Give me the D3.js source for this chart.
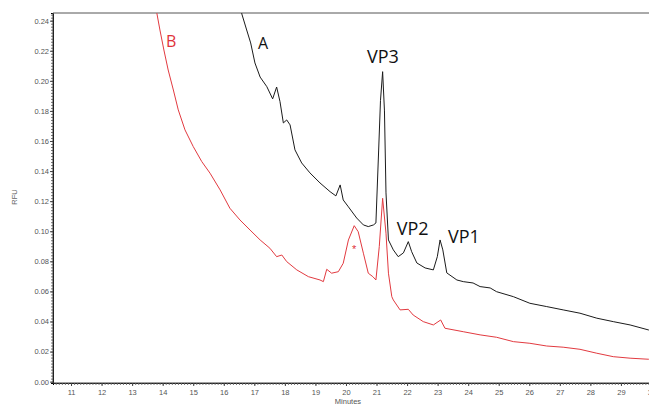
<!DOCTYPE html>
<meta charset="utf-8">
<script src="https://d3js.org/d3.v7.min.js"></script>
<style>
  body { margin: 0; background: #fff; }
  text { font-family: Arial, "Liberation Sans", sans-serif; }
</style>
<body>
<div id="chart"></div>
<script>
// trace A (black) : minutes / RFU
const minutesA = [16.55, 16.59, 16.75, 16.88, 17.02, 17.19, 17.41, 17.60, 17.73, 17.84, 17.95, 18.06, 18.17,
  18.33, 18.55, 18.82, 19.15, 19.48, 19.67, 19.81, 19.91, 20.08, 20.35, 20.57, 20.73, 20.90, 20.98,
  21.07, 21.13, 21.20, 21.26, 21.31, 21.39, 21.55, 21.71, 21.88, 22.04, 22.15, 22.32, 22.59, 22.86,
  22.99, 23.08, 23.17, 23.30, 23.63, 23.84, 24.16, 24.39, 24.72, 24.93, 25.48, 26.02, 26.57, 27.11,
  27.66, 28.21, 28.75, 29.30, 29.90, 30.20];
const rfuA = [0.250, 0.2445, 0.2338, 0.2252, 0.2119, 0.2025, 0.1961, 0.1880, 0.1959, 0.1862, 0.1720, 0.1740, 0.1707,
  0.1541, 0.1454, 0.1388, 0.1321, 0.1263, 0.1235, 0.1308, 0.1208, 0.1162, 0.1088, 0.1042, 0.1031, 0.1042, 0.1055,
  0.154, 0.187, 0.2061, 0.180, 0.1255, 0.0942, 0.0876, 0.0831, 0.0856, 0.0931, 0.0864, 0.0789, 0.0756, 0.0743,
  0.0831, 0.0942, 0.0876, 0.0723, 0.0676, 0.0665, 0.0656, 0.0632, 0.0623, 0.0598, 0.0565, 0.0521, 0.0499, 0.0477,
  0.0455, 0.0422, 0.0399, 0.0377, 0.0344, 0.0330];

// trace B (red)
const minutesB = [13.75, 13.81, 13.91, 14.04, 14.18, 14.35, 14.51, 14.73, 15.00, 15.28, 15.55, 15.88, 16.20, 16.53,
  16.86, 17.19, 17.51, 17.73, 17.90, 18.06, 18.39, 18.77, 19.15, 19.26, 19.37, 19.53, 19.75, 19.91, 20.08,
  20.27, 20.40, 20.57, 20.73, 20.88, 20.98, 21.09, 21.20, 21.31, 21.39, 21.50, 21.55, 21.77, 22.04, 22.20,
  22.53, 22.86, 23.10, 23.24, 23.84, 24.39, 24.93, 25.48, 26.02, 26.57, 27.11, 27.66, 28.21, 28.75, 29.30,
  29.90, 30.20];
const rfuB = [0.250, 0.2449, 0.2338, 0.2205, 0.2072, 0.1939, 0.1807, 0.1674, 0.1563, 0.1463, 0.1386, 0.1275, 0.1153, 0.1075,
  0.1008, 0.0942, 0.0887, 0.0831, 0.0842, 0.0798, 0.0743, 0.0698, 0.0676, 0.0665, 0.0747, 0.0721, 0.0731, 0.0787, 0.0942,
  0.1037, 0.0997, 0.0854, 0.0721, 0.0698, 0.0676, 0.0898, 0.1219, 0.0987, 0.0721, 0.0565, 0.0543, 0.0477, 0.0481, 0.0443,
  0.0399, 0.0377, 0.0410, 0.0355, 0.0332, 0.0311, 0.0295, 0.0266, 0.0255, 0.0237, 0.0229, 0.0215, 0.0189, 0.0166, 0.0156,
  0.0149, 0.0145];

const xTicks = d3.range(11, 31, 1);
const yTicks = d3.range(0, 0.2401, 0.02);

// peak labels (position = left end of text, baseline)
const labels = [
  {text: "A", m: 17.12, v: 0.2212, color: "#111", size: 16},
  {text: "B", m: 14.11, v: 0.2227, color: "#e0323a", size: 16},
  {text: "VP3", m: 20.69, v: 0.2117, color: "#111", size: 18},
  {text: "VP2", m: 21.66, v: 0.0975, color: "#111", size: 18},
  {text: "VP1", m: 23.34, v: 0.0922, color: "#111", size: 18}
];

const W = 649, H = 405;
const margin = {top: 13, left: 53, bottom: 22};

const svg = d3.select("#chart").append("svg")
  .attr("width", W).attr("height", H);

const x = d3.scaleLinear().domain([10.41, 30.2]).range([53, 53 + 19.79 * 30.55]);
const y = d3.scaleLinear().domain([-0.0009, 0.2451]).range([H - margin.bottom, margin.top]);

svg.append("clipPath").attr("id", "plot")
  .append("rect")
  .attr("x", margin.left).attr("y", margin.top)
  .attr("width", W - margin.left).attr("height", H - margin.bottom - margin.top);

// minor ticks
svg.append("g")
  .attr("transform", `translate(${margin.left},0)`)
  .call(d3.axisLeft(y).tickValues(d3.range(0, 0.245, 0.002)).tickSize(2).tickFormat(""))
  .call(g => g.selectAll("line").attr("stroke", "#777"));
svg.append("g")
  .attr("transform", `translate(0,${H - margin.bottom})`)
  .call(d3.axisBottom(x).tickValues(d3.range(10.5, 30.25, 0.1)).tickSize(2).tickFormat(""))
  .call(g => g.selectAll("line").attr("stroke", "#777"));

// major axes
svg.append("g")
  .attr("transform", `translate(${margin.left},0)`)
  .call(d3.axisLeft(y).tickValues(yTicks).tickSize(3).tickPadding(1).tickFormat(d3.format(".2f")))
  .call(g => g.select(".domain").remove())
  .call(g => g.selectAll("line").attr("stroke", "#444"))
  .call(g => g.selectAll("text").attr("fill", "#555").style("font-size", "7.5px"));

svg.append("g")
  .attr("transform", `translate(0,${H - margin.bottom})`)
  .call(d3.axisBottom(x).tickValues(xTicks).tickSize(3).tickPadding(4).tickFormat(d3.format("d")))
  .call(g => g.select(".domain").remove())
  .call(g => g.selectAll("line").attr("stroke", "#444"))
  .call(g => g.selectAll("text").attr("fill", "#555").style("font-size", "7.5px"));

// frame lines
svg.append("line")
  .attr("x1", margin.left).attr("x2", margin.left)
  .attr("y1", margin.top).attr("y2", H - margin.bottom)
  .attr("stroke", "#444");
svg.append("line")
  .attr("x1", margin.left).attr("x2", W)
  .attr("y1", H - margin.bottom).attr("y2", H - margin.bottom)
  .attr("stroke", "#444");
svg.append("line")
  .attr("x1", margin.left).attr("x2", W)
  .attr("y1", margin.top).attr("y2", margin.top)
  .attr("stroke", "#555");

// axis titles
svg.append("text")
  .attr("transform", `translate(17,197) rotate(-90)`)
  .attr("text-anchor", "middle")
  .attr("fill", "#666")
  .style("font-size", "7.5px")
  .text("RFU");
svg.append("text")
  .attr("x", 348).attr("y", 404)
  .attr("text-anchor", "middle")
  .attr("fill", "#555")
  .style("font-size", "7.5px")
  .text("Minutes");

// traces
const line = d3.line().x(d => x(d[0])).y(d => y(d[1]));

svg.append("path")
  .datum(d3.zip(minutesB, rfuB))
  .attr("clip-path", "url(#plot)")
  .attr("fill", "none")
  .attr("stroke", "#e23a40")
  .attr("stroke-width", 1)
  .attr("d", line);

svg.append("path")
  .datum(d3.zip(minutesA, rfuA))
  .attr("clip-path", "url(#plot)")
  .attr("fill", "none")
  .attr("stroke", "#1b1b1b")
  .attr("stroke-width", 1)
  .attr("d", line);

// annotations
svg.selectAll(".lbl")
  .data(labels)
  .enter()
  .append("text")
    .attr("class", "lbl")
    .attr("x", d => x(d.m))
    .attr("y", d => y(d.v))
    .attr("fill", d => d.color)
    .style("font-family", "'Open Sans', sans-serif")
    .style("font-size", d => d.size + "px")
    .text(d => d.text);

svg.append("text")
  .attr("x", x(20.27)).attr("y", y(0.0855))
  .attr("text-anchor", "middle")
  .attr("fill", "#e0323a")
  .style("font-size", "11px")
  .text("*");
</script>
</body>
</html>
